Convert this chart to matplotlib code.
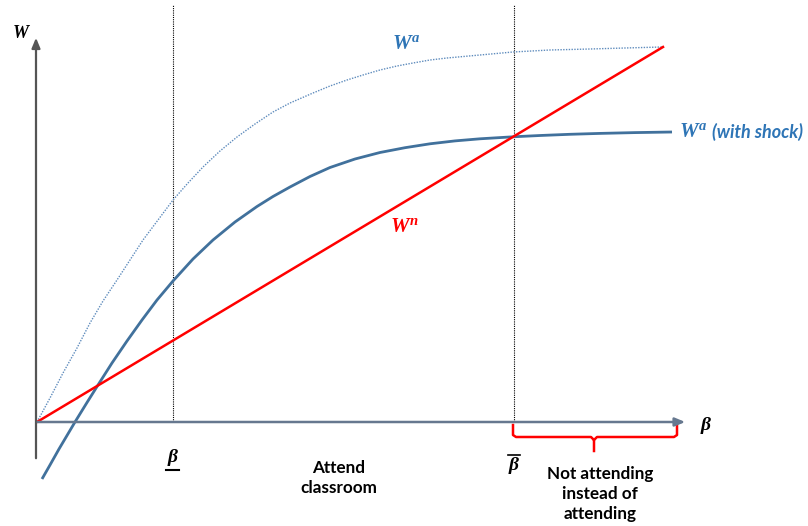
import numpy as np
import matplotlib
matplotlib.use('Agg')
from matplotlib import pyplot as plt

plt.rcParams['mathtext.fontset'] = 'custom'
plt.rcParams['mathtext.it'] = 'Liberation Serif:italic:bold'
plt.rcParams['mathtext.rm'] = 'Liberation Serif:bold'

###########################################################
# values (beta, W in screen units from the origin)

beta_lo = 136      # beta underline
beta_hi = 477      # beta bar

wn_beta = [0, 626]
wn_W = [0, 375]

wa_beta = [0, 13, 26, 40, 53, 66, 80, 93, 106, 121, 136, 151, 166, 183, 200, 218, 236,
           253, 276, 293, 310, 326, 343, 360, 376, 393, 410, 443, 476, 513, 553, 588, 625]
wa_W = [0, 24, 49, 74, 99, 121, 142, 162, 182, 202, 222, 239, 255, 271, 285, 298, 310,
        319, 329, 336, 342, 347, 352, 356, 359, 362, 364, 367, 370, 372, 373, 374, 375]

shock_beta = [5, 13, 22, 30, 38, 50, 61, 75, 90, 105, 120, 136, 156, 176, 198, 220, 236,
              253, 273, 293, 318, 343, 368, 393, 418, 443, 476, 503, 533, 563, 598, 635]
shock_W = [-57, -43, -27, -13.5, 0, 19.5, 37, 59, 81, 102, 122, 141, 163, 182, 200, 215.5, 225.5,
           235, 245.5, 254.5, 263, 269.5, 274.3, 278.2, 281.1, 283.2, 285.2, 286.5, 287.7, 288.6, 289.4, 290]

###########################################################

my_dpi = 100
fig = plt.figure(figsize=(808/my_dpi, 526/my_dpi), dpi=my_dpi)
ax = fig.add_axes([0, 0, 1, 1])
ax.set_xlim(-37, 771)
ax.set_ylim(-104, 422)
ax.axis('off')

def px(x, y):
    # screen pixel -> data
    return x - 37, 422 - y

# axes arrows
ax.annotate('', xy=px(36, 35), xytext=px(36, 461),
            arrowprops=dict(arrowstyle='-|>,head_length=0.6,head_width=0.25', color='#555555', lw=1.6))
ax.annotate('', xy=px(688, 422), xytext=px(35, 422),
            arrowprops=dict(arrowstyle='-|>,head_length=0.6,head_width=0.25', color='#66788f', lw=1.8))

# vertical dotted guides
for b in [beta_lo, beta_hi]:
    ax.plot([b, b], [0, 417], color='black', linestyle=(0, (1, 1)), linewidth=0.8)

ax.plot(wa_beta, wa_W, color='#5f8cbd', linestyle=(0, (1, 1)), linewidth=1.0)
ax.plot(shock_beta, shock_W, color='#41719c', linewidth=2.0, solid_capstyle='butt')
ax.plot(wn_beta, wn_W, color='#ff0000', linewidth=1.8)

# brace
bx = [px(513, 425), px(513, 435), px(516, 437), px(591, 437), px(594, 440), px(594, 451)]
ax.plot([p[0] for p in bx], [p[1] for p in bx], color='#ff0000', lw=1.8)
bx = [px(594, 440), px(597, 437), px(674, 437), px(677, 435), px(677, 425)]
ax.plot([p[0] for p in bx], [p[1] for p in bx], color='#ff0000', lw=1.8)

serif = dict(family='Liberation Serif', style='italic', weight='bold')
ax.text(*px(21, 33), 'W', fontsize=13, color='black', ha='center', va='center', **serif)
ax.text(*px(706, 426), 'β', fontsize=14, color='black', ha='center', va='center', **serif)
ax.text(*px(173, 458), 'β', fontsize=14, color='black', ha='center', va='center', **serif)
ax.plot(*zip(px(166, 470), px(179, 470)), color='black', lw=1.5)
ax.text(*px(514, 465), 'β', fontsize=14, color='black', ha='center', va='center', **serif)
ax.plot(*zip(px(508, 455), px(520, 455)), color='black', lw=1.2)

ax.text(*px(406, 43), r'$W^{a}$', fontsize=15, color='#2e75b6', ha='center', va='center')
ax.text(*px(405, 226), r'$W^{n}$', fontsize=15, color='#ff0000', ha='center', va='center')
ax.text(*px(679, 131), r'$W^{a}$', fontsize=15, color='#2e75b6', ha='left', va='center')
ax.text(*px(712, 132), '(with shock)', fontsize=13, color='#2e75b6', ha='left', va='center',
        family='Lato', style='italic', weight='bold')

ax.text(*px(339, 478), 'Attend\nclassroom', fontsize=12.3, ha='center', va='center',
        family='Lato', weight='bold', linespacing=1.3)
ax.text(*px(600, 494), 'Not attending\ninstead of\nattending', fontsize=12.3, ha='center', va='center',
        family='Lato', weight='bold', linespacing=1.3)

plt.savefig('out.png', dpi=my_dpi)
